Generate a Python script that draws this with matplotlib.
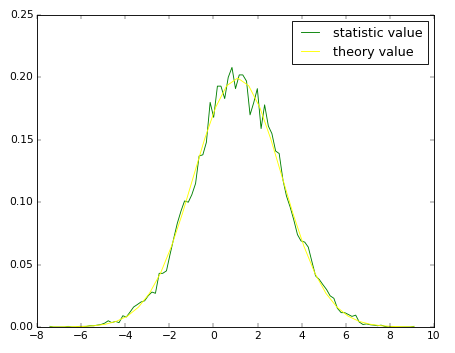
import matplotlib
matplotlib.use('Agg')
import matplotlib.pyplot as plt

plt.style.use('classic')

# histogram of samples (bin centres and relative frequency)
stat_x = [-7.41, -7.25, -7.08, -6.92, -6.75, -6.59, -6.42, -6.26, -6.09, -5.93,
          -5.76, -5.60, -5.43, -5.27, -5.10, -4.94, -4.77, -4.61, -4.44, -4.28,
          -4.11, -3.95, -3.78, -3.62, -3.45, -3.29, -3.12, -2.96, -2.79, -2.63,
          -2.46, -2.30, -2.13, -1.97, -1.80, -1.64, -1.47, -1.31, -1.14, -0.98,
          -0.81, -0.65, -0.48, -0.32, -0.15, 0.01, 0.18, 0.34, 0.51, 0.67,
          0.84, 1.00, 1.17, 1.33, 1.50, 1.66, 1.83, 1.99, 2.16, 2.32,
          2.49, 2.65, 2.82, 2.98, 3.15, 3.31, 3.48, 3.64, 3.81, 3.97,
          4.14, 4.30, 4.47, 4.63, 4.80, 4.96, 5.13, 5.29, 5.46, 5.62,
          5.79, 5.95, 6.12, 6.28, 6.45, 6.61, 6.78, 6.94, 7.11, 7.27,
          7.44, 7.60, 7.77, 7.93, 8.10, 8.26, 8.43, 8.59, 8.76, 8.92, 9.09]
stat_y = [0.0005, 0.0, 0.0, 0.0, 0.0, 0.0005, 0.0, 0.0, 0.0005, 0.0005,
          0.0005, 0.001, 0.001, 0.0015, 0.002, 0.003, 0.005, 0.0035, 0.0045, 0.0035,
          0.009, 0.008, 0.012, 0.016, 0.018, 0.020, 0.021, 0.025, 0.028, 0.027,
          0.043, 0.043, 0.045, 0.058, 0.071, 0.083, 0.093, 0.101, 0.100, 0.106,
          0.115, 0.137, 0.138, 0.148, 0.180, 0.168, 0.193, 0.193, 0.183, 0.200,
          0.208, 0.191, 0.202, 0.202, 0.197, 0.170, 0.180, 0.191, 0.159, 0.178,
          0.161, 0.155, 0.141, 0.139, 0.118, 0.105, 0.096, 0.086, 0.074, 0.069,
          0.068, 0.064, 0.052, 0.041, 0.038, 0.034, 0.030, 0.025, 0.023, 0.015,
          0.0115, 0.0115, 0.010, 0.0085, 0.0095, 0.004, 0.002, 0.0025, 0.0018, 0.0015,
          0.001, 0.0015, 0.0005, 0.0, 0.0005, 0.0, 0.0, 0.0, 0.0, 0.0, 0.0005]

# theoretical density
theory_x = [-7.4, -6.9, -6.4, -5.9, -5.4, -4.9, -4.4, -3.9, -3.4, -2.9,
            -2.4, -1.9, -1.4, -0.9, -0.4, 0.1, 0.6, 1.1, 1.6, 2.1,
            2.6, 3.1, 3.6, 4.1, 4.6, 5.1, 5.6, 6.1, 6.6, 7.1,
            7.6, 8.1, 8.6, 9.1]
theory_y = [0.00002, 0.00007, 0.00018, 0.00044, 0.00102, 0.00222, 0.00455, 0.00876, 0.0159, 0.0270,
            0.0431, 0.0648, 0.0913, 0.1210, 0.1506, 0.1760, 0.1933, 0.1995, 0.1933, 0.1760,
            0.1506, 0.1210, 0.0913, 0.0648, 0.0431, 0.0270, 0.0159, 0.00876, 0.00455, 0.00222,
            0.00102, 0.00044, 0.00018, 0.00007]

dpi = 64
fig = plt.figure(figsize=(455 / dpi, 353 / dpi), dpi=dpi)
ax = fig.add_axes([37 / 455, 26 / 353, 397 / 455, 312 / 353])

ax.plot(stat_x, stat_y, color='g', label='statistic value')
ax.plot(theory_x, theory_y, color='yellow', label='theory value')

ax.set_xlim(-8, 10)
ax.set_ylim(0, 0.25)
ax.legend(loc='upper right')

fig.savefig('out.png', dpi=dpi)
